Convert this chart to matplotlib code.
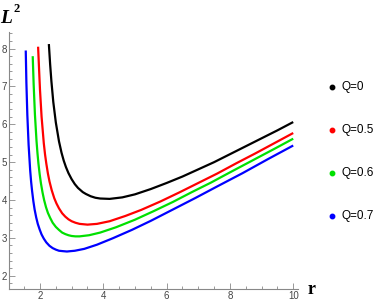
import matplotlib
matplotlib.use("Agg")
import matplotlib.pyplot as plt
from matplotlib.lines import Line2D
from matplotlib.ticker import MultipleLocator

# values
r_q0 = [2.28, 2.32, 2.36, 2.42, 2.5, 2.6, 2.68, 2.75, 2.82, 2.9, 3.0, 3.1, 3.2,
        3.35, 3.45, 3.6, 3.75, 3.9, 4.2, 4.6, 5.0, 5.5, 6.0, 6.5, 7.0, 7.5,
        8.0, 8.5, 9.0, 9.5, 10.0]
l2_q0 = [8.12, 7.59, 7.14, 6.59, 6.05, 5.55, 5.25, 5.04, 4.87, 4.71, 4.55, 4.42, 4.32,
         4.21, 4.16, 4.10, 4.06, 4.04, 4.03, 4.07, 4.15, 4.29, 4.45, 4.62, 4.81, 5.00,
         5.21, 5.42, 5.63, 5.84, 6.06]

r_q05 = [1.94, 1.97, 2.0, 2.05, 2.12, 2.16, 2.2, 2.25, 2.3, 2.37, 2.45, 2.52, 2.6,
         2.7, 2.8, 2.9, 3.0, 3.12, 3.25, 3.5, 3.8, 4.2, 4.7, 5.2, 5.8, 6.4, 7.0,
         7.6, 8.2, 8.8, 9.4, 10.0]
l2_q05 = [8.05, 7.47, 6.91, 6.20, 5.50, 5.20, 4.96, 4.70, 4.49, 4.26, 4.05, 3.91, 3.78,
          3.65, 3.56, 3.49, 3.44, 3.40, 3.37, 3.35, 3.37, 3.44, 3.58, 3.74, 3.96, 4.20,
          4.45, 4.70, 4.97, 5.23, 5.50, 5.77]

r_q06 = [1.77, 1.80, 1.84, 1.89, 1.92, 1.95, 1.99, 2.03, 2.08, 2.13, 2.19, 2.25,
         2.32, 2.4, 2.5, 2.6, 2.7, 2.8, 2.9, 3.0, 3.12, 3.25, 3.55, 3.9, 4.4, 5.0,
         5.6, 6.2, 6.8, 7.4, 8.0, 8.7, 9.4, 10.0]
l2_q06 = [7.80, 7.05, 6.26, 5.56, 5.24, 4.97, 4.68, 4.44, 4.20, 4.00, 3.81, 3.66,
          3.53, 3.40, 3.29, 3.21, 3.14, 3.10, 3.07, 3.05, 3.04, 3.04, 3.07, 3.14, 3.28,
          3.48, 3.71, 3.95, 4.21, 4.46, 4.73, 5.04, 5.35, 5.62]

r_q07 = [1.55, 1.57, 1.60, 1.64, 1.69, 1.72, 1.75, 1.79, 1.83, 1.88, 1.93, 1.99,
         2.05, 2.12, 2.2, 2.3, 2.4, 2.5, 2.6, 2.72, 2.85, 2.97, 3.1, 3.4, 3.8, 4.3,
         4.9, 5.5, 6.2, 6.9, 7.6, 8.4, 9.2, 10.0]
l2_q07 = [7.95, 7.10, 6.25, 5.46, 4.78, 4.48, 4.24, 3.97, 3.75, 3.54, 3.37, 3.22,
          3.09, 2.98, 2.88, 2.79, 2.73, 2.69, 2.66, 2.65, 2.64, 2.65, 2.66, 2.71, 2.82,
          2.99, 3.21, 3.45, 3.75, 4.05, 4.36, 4.71, 5.08, 5.44]

labels = ["Q=0", "Q=0.5", "Q=0.6", "Q=0.7"]
colors = ["black", "#ff0000", "#00e000", "#0000ff"]

fig = plt.figure(figsize=(3.74, 3.05), dpi=100)
ax = fig.add_axes([0.024, 0.0525, 0.7727, 0.844])

series = [(r_q0, l2_q0), (r_q05, l2_q05), (r_q06, l2_q06), (r_q07, l2_q07)]
for (r, l2), c in zip(series, colors):
    ax.plot(r, l2, color=c, lw=1.6, solid_capstyle="butt", solid_joinstyle="round")

ax.set_xlim(1.02, 10.15)
ax.set_ylim(1.65, 8.45)

for side in ("top", "right"):
    ax.spines[side].set_visible(False)
for side in ("left", "bottom"):
    ax.spines[side].set_color("#888888")
    ax.spines[side].set_linewidth(0.8)

ax.xaxis.set_major_locator(MultipleLocator(2))
ax.xaxis.set_minor_locator(MultipleLocator(0.5))
ax.yaxis.set_major_locator(MultipleLocator(1))
ax.yaxis.set_minor_locator(MultipleLocator(0.2))
ax.tick_params(which="both", direction="in", color="#888888", width=0.6,
               labelsize=7, labelcolor="#444444", pad=1.5)
ax.tick_params(which="major", length=4)
ax.tick_params(which="minor", length=2)
for lab in ax.get_xticklabels() + ax.get_yticklabels():
    lab.set_family("Liberation Sans")

# axis titles
fig.text(0.0, 0.925, "L", family="Liberation Serif", weight="bold",
         style="italic", fontsize=14)
fig.text(0.036, 0.96, "2", family="Liberation Serif", weight="bold",
         fontsize=9)
fig.text(0.822, 0.035, "r", family="Liberation Serif", weight="bold",
         fontsize=13)

# legend: coloured dot + label
for i, (lab, c) in enumerate(zip(labels, colors)):
    ypx = 86.7 + 43.1 * i
    yf = 1 - ypx / 305
    fig.add_artist(Line2D([331.7 / 374], [yf], marker="o", markersize=3.2,
                          color=c, linestyle="none",
                          transform=fig.transFigure))
    fig.text(341 / 374, yf, lab, family="Liberation Sans", fontsize=8.5,
             va="center", ha="left", color="black")

fig.savefig("out.png", dpi=100)
